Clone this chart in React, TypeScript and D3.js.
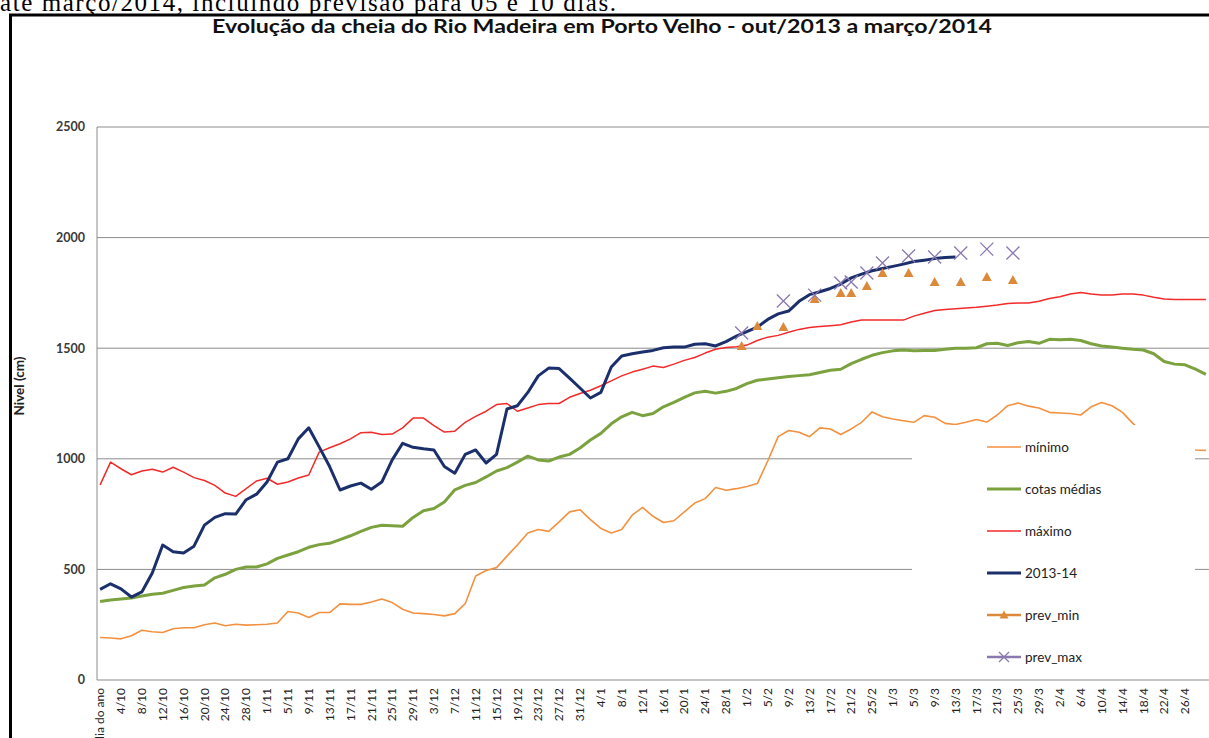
import React from 'react';
import * as d3 from 'd3';

const W = 1209;
const H = 738;

// one label every 4 days, first category is 30/9
const tickLabels = [
  'dia do ano', '4/10', '8/10', '12/10', '16/10', '20/10', '24/10', '28/10',
  '1/11', '5/11', '9/11', '13/11', '17/11', '21/11', '25/11', '29/11',
  '3/12', '7/12', '11/12', '15/12', '19/12', '23/12', '27/12', '31/12',
  '4/1', '8/1', '12/1', '16/1', '20/1', '24/1', '28/1',
  '1/2', '5/2', '9/2', '13/2', '17/2', '21/2', '25/2',
  '1/3', '5/3', '9/3', '13/3', '17/3', '21/3', '25/3', '29/3',
  '2/4', '6/4', '10/4', '14/4', '18/4', '22/4', '26/4',
];
const TICK_EVERY = 4;
const N_DAYS = 213;

// daily series read every 2 days (cm)
const STEP = 2;
const minimo = [
  192, 190, 186, 200, 225, 218, 215, 232, 236, 236,
  250, 258, 245, 252, 248, 250, 252, 258, 310, 303,
  283, 305, 305, 344, 342, 342, 353, 366, 350, 320,
  303, 300, 296, 290, 300, 345, 470, 495, 508, 560,
  610, 665, 680, 672, 715, 760, 770, 725, 685, 665,
  680, 745, 780, 740, 712, 720, 760, 800, 820, 870,
  858, 865, 875, 888, 990, 1100, 1128, 1120, 1100, 1140,
  1135, 1110, 1135, 1165, 1212, 1190, 1180, 1172, 1165, 1195,
  1188, 1160, 1155, 1165, 1178, 1166, 1198, 1240, 1252, 1238,
  1230, 1210, 1207, 1205, 1198, 1235, 1255, 1240, 1210, 1160,
  1120, 1090, 1070, 1055, 1045, 1040, 1038,
];
const cotasMedias = [
  355, 362, 366, 371, 380, 388, 392, 405, 418, 425,
  430, 462, 478, 500, 511, 511, 525, 550, 565, 580,
  600, 612, 618, 635, 652, 672, 690, 700, 697, 695,
  735, 765, 775, 805, 860, 880, 893, 918, 945, 960,
  985, 1012, 995, 990, 1008, 1020, 1049, 1085, 1115, 1158,
  1190, 1210, 1195, 1205, 1235, 1255, 1278, 1298, 1305, 1297,
  1305, 1318, 1340, 1355, 1361, 1366, 1372, 1376, 1380, 1390,
  1400, 1405, 1430, 1450, 1468, 1480, 1488, 1492, 1488, 1490,
  1490, 1495, 1500, 1500, 1502, 1520, 1522, 1512, 1525, 1530,
  1522, 1540, 1538, 1540, 1535, 1520, 1510, 1505, 1500, 1495,
  1492, 1475, 1440, 1428, 1425, 1405, 1382,
];
const maximo = [
  882, 985, 955, 928, 945, 953, 940, 962, 940, 915,
  902, 880, 845, 830, 865, 900, 912, 885, 895, 913,
  927, 1030, 1050, 1068, 1090, 1118, 1120, 1110, 1112, 1140,
  1184, 1184, 1150, 1121, 1125, 1165, 1192, 1215, 1245, 1250,
  1215, 1230, 1245, 1250, 1250, 1278, 1295, 1310, 1330, 1352,
  1375, 1392, 1405, 1419, 1413, 1428, 1445, 1458, 1478, 1495,
  1503, 1507, 1514, 1535, 1550, 1558, 1572, 1585, 1594, 1598,
  1602, 1606, 1618, 1627, 1627, 1627, 1627, 1627, 1645, 1658,
  1670, 1675, 1678, 1682, 1685, 1690, 1695, 1702, 1704, 1704,
  1712, 1725, 1733, 1745, 1752, 1745, 1740, 1740, 1745, 1745,
  1740, 1730, 1722, 1720, 1720, 1720, 1720,
];
const serie2013 = [
  410, 435, 412, 375, 398, 484, 610, 580, 574, 605,
  700, 735, 752, 750, 815, 840, 895, 985, 1000, 1090,
  1140, 1054, 965, 859, 877, 890, 862, 895, 995, 1070,
  1052, 1045, 1040, 965, 935, 1020, 1040, 981, 1020, 1225,
  1240, 1300, 1375, 1410, 1408, 1365, 1320, 1275, 1300, 1415,
  1465, 1475, 1483, 1490, 1502, 1505, 1505, 1518, 1520, 1510,
  1530, 1555, 1575, 1595, 1630, 1655, 1668, 1712, 1742, 1755,
  1770, 1790, 1818, 1835, 1850, 1860, 1870, 1880, 1892, 1898,
  1905, 1910, 1912,
];

// forecasts: day index from 30/9 and level (cm)
const prevMinDay = [123, 126, 131, 137, 142, 144, 147, 150, 155, 160, 165, 170, 175];
const prevMinVal = [1510, 1600, 1596, 1722, 1750, 1750, 1781, 1840, 1840, 1799, 1799, 1822, 1808];
const prevMaxDay = [123, 131, 137, 142, 144, 147, 150, 155, 160, 165, 170, 175];
const prevMaxVal = [1569, 1713, 1740, 1795, 1799, 1840, 1885, 1917, 1912, 1930, 1948, 1930];

const yTicks = [0, 500, 1000, 1500, 2000, 2500];

const C_MIN = '#F39140';
const C_MED = '#7BA23F';
const C_MAX = '#F22A2A';
const C_2013 = '#1B2F6C';
const C_PMIN = '#DB8A3C';
const C_PMAX = '#8A78B0';
const GRID = '#8C8C8C';
const FONT = 'Lato, "Open Sans", sans-serif';

const Triangle = ({ cx, cy, s = 5 }: { cx: number; cy: number; s?: number }) => (
  <path d={`M${cx},${cy - s}L${cx + s},${cy + s * 0.8}L${cx - s},${cy + s * 0.8}Z`} fill={C_PMIN} />
);

const Cross = ({ cx, cy, s = 6.5 }: { cx: number; cy: number; s?: number }) => (
  <path
    d={`M${cx - s},${cy - s}L${cx + s},${cy + s}M${cx - s},${cy + s}L${cx + s},${cy - s}`}
    stroke={C_PMAX}
    strokeWidth={1.3}
    fill="none"
  />
);

export default function App() {
  const x = d3.scaleLinear().domain([-0.5, N_DAYS - 0.5]).range([97.5, 1208.5]);
  const y = d3.scaleLinear().domain([0, 2500]).range([680, 127]);

  const line = d3
    .line<number>()
    .x((_, i) => x(i * STEP))
    .y((d) => y(d));

  const legendItems = [
    { label: 'mínimo', color: C_MIN, w: 1.6, marker: null },
    { label: 'cotas médias', color: C_MED, w: 3, marker: null },
    { label: 'máximo', color: C_MAX, w: 1.5, marker: null },
    { label: '2013-14', color: C_2013, w: 3, marker: null },
    { label: 'prev_min', color: C_PMIN, w: 2.5, marker: 'tri' },
    { label: 'prev_max', color: C_PMAX, w: 2.5, marker: 'x' },
  ];

  return (
    <svg
      width={W}
      height={H}
      style={{ position: 'absolute', left: 0, top: 0, background: '#fff' }}
      fontFamily={FONT}
    >
      <rect x={0} y={0} width={W} height={H} fill="#fff" />
      {/* page text above the figure, cut by the crop */}
      <text x={0} y={11} fontFamily='"Liberation Serif", "Times New Roman", serif' fontSize={25} fill="#000" textLength={616} lengthAdjust="spacing">
        até março/2014, incluindo previsão para 05 e 10 dias.
      </text>
      {/* frame */}
      <path d={`M10.5,${H}V15H${W}`} stroke="#000" strokeWidth={3} fill="none" />

      <text x={602} y={33} textAnchor="middle" fontWeight="bold" fontSize={19} fill="#111" textLength={780} lengthAdjust="spacingAndGlyphs">
        Evolução da cheia do Rio Madeira em Porto Velho - out/2013 a março/2014
      </text>

      {/* grid */}
      {yTicks.map((t) => (
        <g key={t}>
          {t > 0 && <line x1={97} x2={W} y1={y(t)} y2={y(t)} stroke={GRID} strokeWidth={1} />}
          <text x={85} y={y(t)} dy="0.35em" textAnchor="end" fontSize={12.5} fontWeight="bold" fill="#3a3a3a">
            {t}
          </text>
        </g>
      ))}
      <line x1={97} x2={97} y1={y(2500)} y2={y(0)} stroke={GRID} strokeWidth={1} />
      <line x1={97} x2={W} y1={y(0)} y2={y(0)} stroke={GRID} strokeWidth={1} />

      <text transform={`translate(24,${386}) rotate(-90)`} textAnchor="middle" fontSize={13.5} fontWeight="bold" fill="#222">
        Nivel (cm)
      </text>

      {tickLabels.map((lab, k) => (
        <text
          key={lab}
          transform={`translate(${x(k * TICK_EVERY)},688) rotate(-90)`}
          dy="0.35em"
          textAnchor="end"
          fontSize={12}
          fill="#222"
        >
          {lab}
        </text>
      ))}

      {/* series */}
      <path d={line(minimo) ?? ''} fill="none" stroke={C_MIN} strokeWidth={1.6} strokeLinejoin="round" />
      <path d={line(cotasMedias) ?? ''} fill="none" stroke={C_MED} strokeWidth={3} strokeLinejoin="round" />
      <path d={line(maximo) ?? ''} fill="none" stroke={C_MAX} strokeWidth={1.5} strokeLinejoin="round" />
      <path d={line(serie2013) ?? ''} fill="none" stroke={C_2013} strokeWidth={3} strokeLinejoin="round" />

      {prevMinDay.map((d, i) => (
        <Triangle key={'n' + i} cx={x(d)} cy={y(prevMinVal[i])} />
      ))}
      {prevMaxDay.map((d, i) => (
        <Cross key={'m' + i} cx={x(d)} cy={y(prevMaxVal[i])} />
      ))}

      {/* legend */}
      <rect x={912} y={425} width={283} height={247} fill="#fff" />
      {legendItems.map((it, i) => {
        const ly = 447 + i * 42;
        return (
          <g key={it.label}>
            <line x1={987} x2={1021} y1={ly} y2={ly} stroke={it.color} strokeWidth={it.w} />
            {it.marker === 'tri' && <Triangle cx={1004} cy={ly} s={4.5} />}
            {it.marker === 'x' && <Cross cx={1004} cy={ly} s={5} />}
            <text x={1025} y={ly} dy="0.35em" fontSize={13.5} fill="#222">
              {it.label}
            </text>
          </g>
        );
      })}
    </svg>
  );
}
